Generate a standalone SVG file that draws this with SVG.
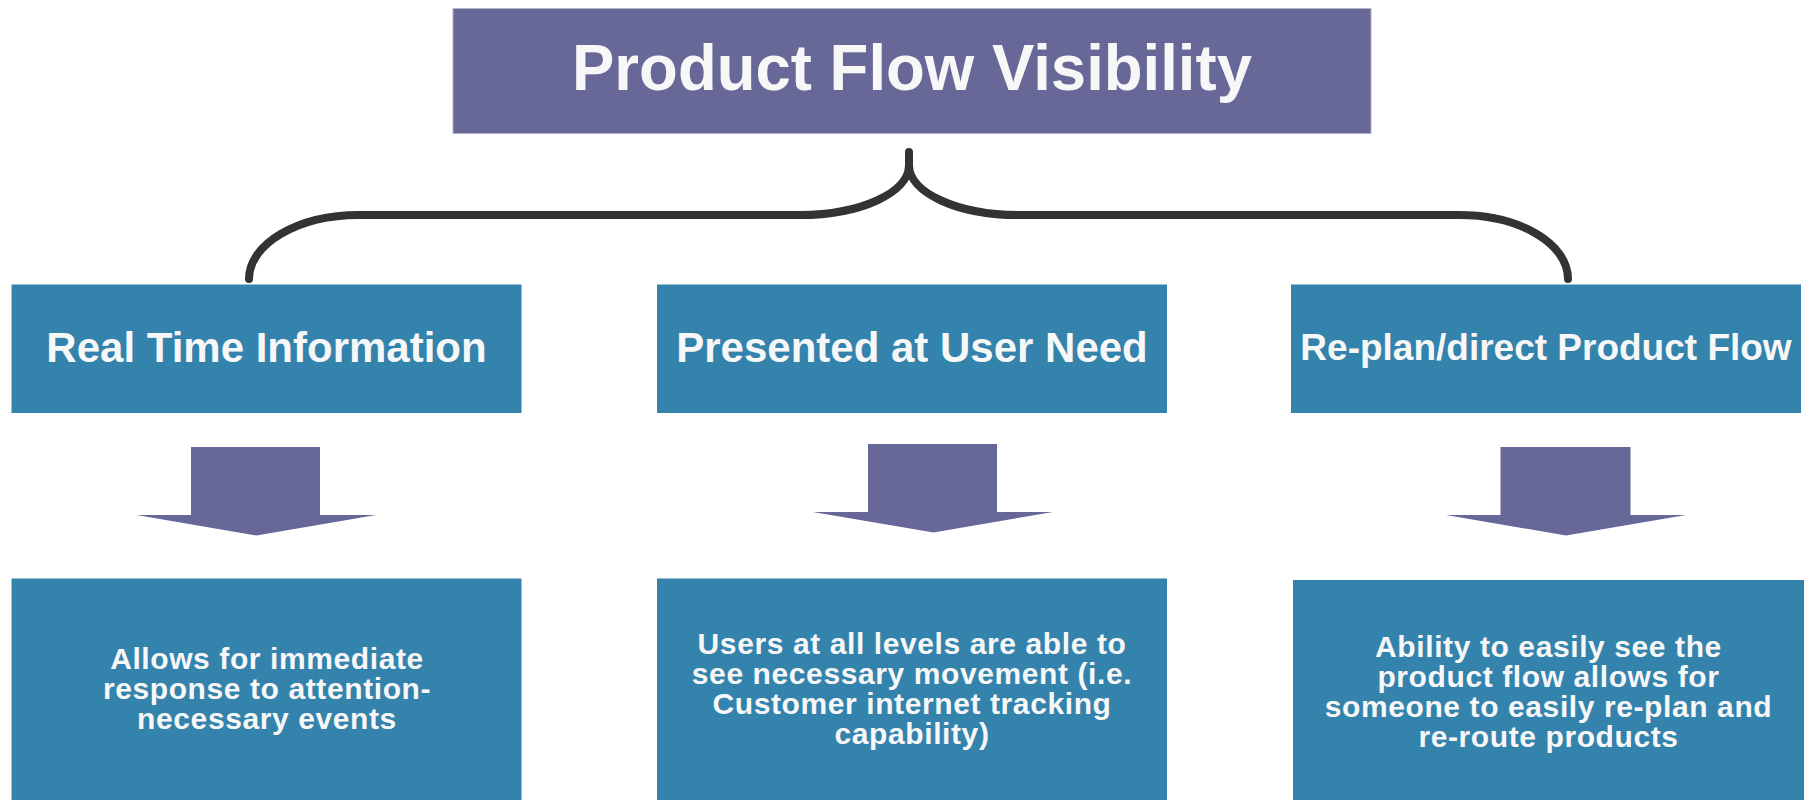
<svg xmlns="http://www.w3.org/2000/svg" width="1814" height="800" viewBox="0 0 1814 800">
<style>
.bg{fill:#ffffff}
.title{fill:#676798;stroke:#b4b4c8;stroke-width:1}
.box{fill:#3383ac}
.t{font-family:"Liberation Sans",Arial,sans-serif;font-weight:bold;fill:#f7f7f7;text-anchor:middle}
.d{font-size:30px;letter-spacing:0.6px}
.brace{fill:none;stroke:#333333;stroke-width:8;stroke-linecap:round;stroke-linejoin:round}
.arrow{fill:#676798}
</style>
<rect class="bg" x="0" y="0" width="1814" height="800"/>
<g id="title">
<rect class="title" x="453" y="8.5" width="918" height="125"/>
<text class="t" x="912" y="90" font-size="64" textLength="680" lengthAdjust="spacingAndGlyphs">Product Flow Visibility</text>
</g>
<g id="connectors">
<path class="brace" d="M 249 279 C 249 243.7 298 215 359 215 L 800 215 C 860 215 909 193 909 165 L 909 152 M 909 165 C 909 193 958 215 1018 215 L 1459 215 C 1520 215 1568 243.7 1568 279"/>
<polygon class="arrow" points="191,447 320,447 320,515 376,515 256.5,535.5 136.5,515 191,515"/>
<polygon class="arrow" points="868,444 997,444 997,512 1053,512 933.5,532.5 813,512 868,512"/>
<polygon class="arrow" points="1500.5,447 1630.5,447 1630.5,515 1686,515 1566,535.5 1446,515 1500.5,515"/>
</g>
<g id="real-time">
<rect class="box" x="11.5" y="284.5" width="510" height="128.5"/>
<text class="t" x="266.5" y="362" font-size="42">Real Time Information</text>
</g>
<g id="presented">
<rect class="box" x="657" y="284.5" width="510" height="128.5"/>
<text class="t" x="912" y="362" font-size="42">Presented at User Need</text>
</g>
<g id="replan">
<rect class="box" x="1291" y="284.5" width="510" height="128.5"/>
<text class="t" x="1546" y="359.5" font-size="37">Re-plan/direct Product Flow</text>
</g>
<g id="allows">
<rect class="box" x="11.5" y="578.5" width="510" height="221.5"/>
<text class="t d"><tspan x="267" y="669">Allows for immediate</tspan><tspan x="267" y="699">response to attention-</tspan><tspan x="267" y="729">necessary events</tspan></text>
</g>
<g id="users">
<rect class="box" x="657" y="578.5" width="510" height="221.5"/>
<text class="t d"><tspan x="912" y="654">Users at all levels are able to</tspan><tspan x="912" y="684">see necessary movement (i.e.</tspan><tspan x="912" y="714">Customer internet tracking</tspan><tspan x="912" y="744">capability)</tspan></text>
</g>
<g id="ability">
<rect class="box" x="1293" y="580" width="511" height="220"/>
<text class="t d"><tspan x="1548.5" y="657">Ability to easily see the</tspan><tspan x="1548.5" y="687">product flow allows for</tspan><tspan x="1548.5" y="717">someone to easily re-plan and</tspan><tspan x="1548.5" y="747">re-route products</tspan></text>
</g>
</svg>
